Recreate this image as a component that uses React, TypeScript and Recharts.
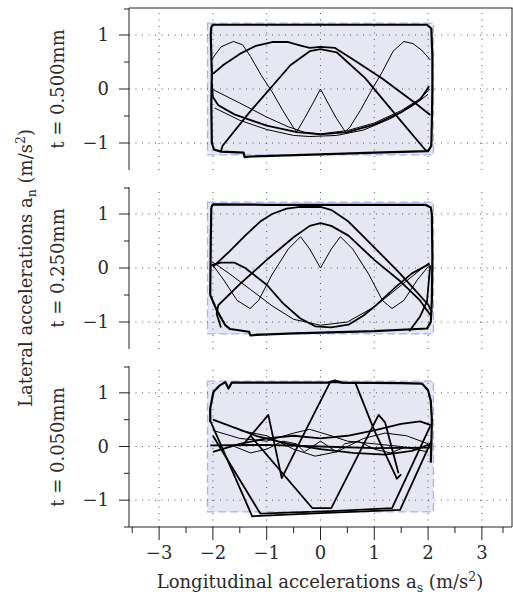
import React from 'react';
import { ScatterChart, Scatter, XAxis, YAxis, ReferenceArea, ReferenceLine } from 'recharts';

type Pt = [number, number];

// axes
const xTicks = [-3.5, -3, -2.5, -2, -1.5, -1, -0.5, 0, 0.5, 1, 1.5, 2, 2.5, 3, 3.5];
const yTicks = [-1.5, -1, -0.5, 0, 0.5, 1, 1.5];
const xGrid = [-3, -2, -1, 0, 1, 2, 3];
const yGrid = [-1, 0, 1];
const xDomain = [-3.56, 3.56];
const yDomain = [-1.5, 1.5];
const panelLabels = ['t = 0.500mm', 't = 0.250mm', 't = 0.050mm'];

// friction envelope (shaded box)
const envX = [-2.1, 2.1];
const envY = [-1.22, 1.22];

// ---- t = 0.500mm ----
const p1Outer: Pt[] = [
  [-2.03, 1.15], [-2.0, 1.19], [-1.0, 1.19], [0, 1.19], [1.0, 1.19], [1.98, 1.19], [2.06, 1.12],
  [2.08, 0.6], [2.08, 0], [2.07, -0.6], [2.06, -1.05], [2.0, -1.15], [1.0, -1.18], [0, -1.21],
  [-1.3, -1.25], [-1.41, -1.26], [-1.43, -1.18], [-1.85, -1.16], [-1.98, -1.12], [-2.02, -1.0],
  [-2.03, -0.3], [-2.02, 0.3], [-2.04, 1.0], [-2.03, 1.15],
];
const p1ArchA: Pt[] = [
  [-2.0, 0.28], [-1.8, 0.45], [-1.5, 0.65], [-1.2, 0.8], [-0.9, 0.87], [-0.6, 0.87], [-0.35, 0.8],
  [-0.2, 0.76], [0, 0.78], [0.27, 0.76], [0.6, 0.55], [1.14, 0.2], [1.76, -0.26], [2.04, -0.48],
];
const p1Triangle: Pt[] = [
  [-1.85, -1.15], [-1.82, -1.05], [-1.31, -0.42], [-0.56, 0.44], [-0.2, 0.7], [0, 0.74],
  [0.3, 0.68], [0.83, 0.2], [1.45, -0.54], [1.95, -1.13], [2.02, -1.15],
];
const p1Hump: Pt[] = [
  [-2.02, 0.55], [-1.85, 0.78], [-1.62, 0.88], [-1.45, 0.82], [-1.3, 0.6], [-1.1, 0.25], [-0.9, -0.05],
  [-0.7, -0.4], [-0.5, -0.72], [-0.44, -0.79], [-0.3, -0.55], [-0.15, -0.28], [0, 0], [0.15, -0.28],
  [0.3, -0.55], [0.46, -0.79], [0.55, -0.7], [0.75, -0.38], [0.95, -0.02], [1.15, 0.32], [1.35, 0.7],
  [1.55, 0.88], [1.72, 0.84], [1.88, 0.72], [2.04, 0.54],
];
const p1BowlThin: Pt[] = [
  [-2.02, 0.0], [-1.5, -0.26], [-1.0, -0.52], [-0.6, -0.7], [-0.3, -0.8], [0, -0.83], [0.5, -0.77],
  [1.0, -0.63], [1.5, -0.4], [1.85, -0.18], [2.03, 0.0],
];
const p1BowlA: Pt[] = [
  [-2.02, 0.1], [-2.0, -0.15], [-1.9, -0.3], [-1.6, -0.47], [-1.0, -0.68], [-0.44, -0.8], [0, -0.84],
  [0.5, -0.8], [1.0, -0.66], [1.5, -0.43], [1.85, -0.2], [2.02, 0.05],
];
const p1BowlB: Pt[] = [
  [-1.97, -0.35], [-1.5, -0.58], [-1.0, -0.75], [-0.5, -0.86], [-0.2, -0.88], [0.3, -0.86],
  [0.8, -0.76], [1.3, -0.55], [1.7, -0.32], [2.0, -0.1],
];

// ---- t = 0.250mm ----
const p2Outer: Pt[] = [
  [-2.03, 1.12], [-2.0, 1.18], [-1.0, 1.17], [0, 1.17], [1.0, 1.17], [1.95, 1.17], [2.05, 1.12],
  [2.07, 1.0], [2.08, 0.2], [2.07, -0.6], [2.05, -1.0], [1.98, -1.12], [1.0, -1.17], [-0.5, -1.21],
  [-1.2, -1.24], [-1.3, -1.25], [-1.33, -1.18], [-1.68, -1.13], [-1.77, -1.06], [-1.93, -0.78],
  [-2.05, -0.5], [-2.04, 0.5], [-2.03, 1.12],
];
const p2ArchA: Pt[] = [
  [-2.0, 0.02], [-1.7, 0.3], [-1.4, 0.6], [-1.12, 0.86], [-0.9, 1.0], [-0.63, 1.1], [-0.38, 1.13],
  [0, 1.13], [0.21, 1.07], [0.52, 0.86], [0.8, 0.58], [1.1, 0.28], [1.45, -0.07], [1.75, -0.4],
  [2.01, -0.69], [2.07, -0.82],
];
const p2ArchB: Pt[] = [
  [-1.85, -1.1], [-1.93, -0.85], [-1.9, -0.69], [-1.5, -0.3], [-1.0, 0.15], [-0.5, 0.57], [-0.2, 0.78],
  [0, 0.83], [0.2, 0.78], [0.52, 0.6], [1.0, 0.15], [1.5, -0.26], [1.85, -0.6], [2.04, -0.87],
];
const p2Bell: Pt[] = [
  [-2.03, 0.05], [-1.85, 0.1], [-1.6, 0.1], [-1.4, 0.0], [-1.0, -0.31], [-0.7, -0.65], [-0.38, -0.93],
  [-0.1, -1.08], [0.2, -1.1], [0.52, -1.05], [0.8, -0.88], [1.02, -0.7], [1.4, -0.35], [1.7, -0.1],
  [2.03, 0.08],
];
const p2BellThin: Pt[] = [
  [-2.02, 0.12], [-1.7, -0.1], [-1.3, -0.4], [-0.9, -0.7], [-0.5, -0.95], [0, -1.06], [0.5, -1.0],
  [1.0, -0.72], [1.5, -0.32], [2.02, 0.1],
];
const p2M: Pt[] = [
  [-2.02, 0.08], [-1.8, -0.22], [-1.55, -0.6], [-1.31, -0.75], [-1.15, -0.6], [-0.9, -0.12],
  [-0.6, 0.35], [-0.37, 0.58], [-0.2, 0.35], [0, 0.0], [0.2, 0.35], [0.37, 0.58], [0.6, 0.35],
  [0.9, -0.12], [1.15, -0.6], [1.33, -0.75], [1.55, -0.6], [1.8, -0.22], [2.02, 0.05],
];
const p2Riser: Pt[] = [
  [1.65, -1.17], [1.85, -0.9], [1.98, -0.62], [2.04, 0.05],
];

// ---- t = 0.050mm ----
const p3Outer: Pt[] = [
  [-2.05, 0.45], [-2.05, 0.71], [-1.99, 1.02], [-1.87, 1.14], [-1.77, 1.2], [-1.71, 1.08], [-1.65, 1.19],
  [-1.0, 1.19], [0.15, 1.19], [0.27, 1.23], [0.4, 1.19], [1.5, 1.18], [1.89, 1.17], [2.0, 1.05],
  [2.05, 0.85], [2.07, 0.5], [2.06, 0.0], [2.05, -0.3],
];
const p3StripA: Pt[] = [
  [-2.04, 0.46], [-1.27, -1.3], [0.0, -1.24], [1.48, -1.18], [2.06, 0.1],
];
const p3StripB: Pt[] = [
  [-2.0, 0.2], [-1.12, -1.25], [0.3, -1.2], [1.33, -1.15], [2.04, 0.38],
];
const p3ZigA: Pt[] = [
  [-1.45, 0.02], [-0.97, 0.59], [-0.72, -0.59], [-0.1, 0.65], [0.18, 1.2], [0.65, 1.18], [1.0, 0.3],
  [1.42, -0.6], [1.5, -0.52],
];
const p3ZigB: Pt[] = [
  [-1.3, 0.2], [-0.15, -1.15], [0.2, -1.15], [1.08, 0.59], [1.2, 0.45], [1.45, -0.5],
];
const p3WaveA: Pt[] = [
  [-2.05, 0.02], [-1.0, 0.03], [0, 0.0], [1.0, -0.03], [2.05, -0.02],
];
const p3WaveB: Pt[] = [
  [-2.0, 0.5], [-1.6, 0.35], [-1.2, 0.2], [-0.6, 0.05], [0, -0.05], [0.6, -0.12], [1.2, -0.15],
  [1.7, -0.08], [2.05, 0.05],
];
const p3WaveC: Pt[] = [
  [-2.0, -0.1], [-1.5, 0.05], [-1.0, 0.15], [-0.5, 0.2], [0, 0.15], [0.5, 0.2], [1.0, 0.3],
  [1.5, 0.42], [1.85, 0.47], [2.05, 0.4],
];
const p3WaveD: Pt[] = [
  [-1.6, 0.0], [-1.3, -0.12], [-1.0, -0.05], [-0.7, 0.1], [-0.45, 0.05], [-0.3, -0.1], [-0.15, 0.0],
  [0, 0.1], [0.15, 0.0], [0.3, -0.1], [0.45, 0.05], [0.7, 0.1], [1.0, -0.05], [1.3, -0.12], [1.6, 0.0],
];
const p3WaveE: Pt[] = [
  [-2.0, 0.3], [-1.5, 0.15], [-1.0, 0.1], [-0.5, 0.25], [-0.2, 0.32], [0.2, 0.2], [0.5, 0.1],
  [1.0, 0.05], [1.5, 0.0], [2.0, -0.1],
];
const p3WaveF: Pt[] = [
  [-1.5, 0.3], [-1.0, 0.2], [-0.5, -0.05], [-0.1, -0.18], [0.3, -0.1], [0.8, 0.15], [1.2, 0.25],
  [1.6, 0.2], [2.0, 0.05],
];

const THICK = 2.2;
const MID = 1.8;
const THIN = 1;

const panels = [
  [
    { pts: p1Outer, w: THICK }, { pts: p1ArchA, w: MID }, { pts: p1Triangle, w: MID },
    { pts: p1Hump, w: THIN }, { pts: p1BowlThin, w: THIN }, { pts: p1BowlA, w: MID }, { pts: p1BowlB, w: THIN },
  ],
  [
    { pts: p2Outer, w: THICK }, { pts: p2ArchA, w: MID }, { pts: p2ArchB, w: MID }, { pts: p2Bell, w: MID },
    { pts: p2BellThin, w: THIN }, { pts: p2M, w: THIN }, { pts: p2Riser, w: MID },
  ],
  [
    { pts: p3Outer, w: THICK }, { pts: p3StripA, w: MID }, { pts: p3StripB, w: MID }, { pts: p3ZigA, w: MID },
    { pts: p3ZigB, w: MID }, { pts: p3WaveA, w: MID }, { pts: p3WaveB, w: MID }, { pts: p3WaveC, w: MID },
    { pts: p3WaveD, w: THIN }, { pts: p3WaveE, w: THIN }, { pts: p3WaveF, w: THIN },
  ],
];

const FONT = '"DejaVu Serif", "Liberation Serif", serif';
const INK = '#222';
const TXT = '#2a2a2a';
const FS = 18;
const FS_SUB = 12.5;

const fmt = (v: number) => (v < 0 ? `\u2212${Math.abs(v)}` : `${v}`);

const YTick = (props: any) => {
  const { x, y, payload } = props;
  const major = Number.isInteger(payload.value);
  return (
    <g>
      <line x1={x - (major ? 10 : 5)} x2={x} y1={y} y2={y} stroke={INK} strokeWidth={1} />
      {major && (
        <text x={x - 20} y={y + 6} textAnchor="end" fontFamily={FONT} fontSize={FS} fill={TXT}>
          {fmt(payload.value)}
        </text>
      )}
    </g>
  );
};

const XTick = (props: any) => {
  const { x, y, payload } = props;
  const major = Number.isInteger(payload.value);
  return (
    <g>
      <line x1={x} x2={x} y1={y} y2={y + (major ? 13 : 6)} stroke={INK} strokeWidth={1} />
      {major && (
        <text x={x} y={y + 32} textAnchor="middle" fontFamily={FONT} fontSize={FS} fill={TXT}>
          {fmt(payload.value)}
        </text>
      )}
    </g>
  );
};

const Panel = ({ series, top, height, bottom, showX }: any) => (
  <div style={{ position: 'absolute', left: 0, top, width: 513, height }}>
    <ScatterChart width={513} height={height} margin={{ top: 8, right: 1, bottom, left: 0 }}>
      <XAxis
        type="number"
        dataKey="x"
        domain={xDomain}
        ticks={xTicks}
        hide={!showX}
        height={showX ? 30 : 0}
        tick={<XTick />}
        tickSize={0}
        tickMargin={0}
        tickLine={false}
        axisLine={{ stroke: INK }}
        allowDataOverflow
      />
      <YAxis
        type="number"
        dataKey="y"
        domain={yDomain}
        ticks={yTicks}
        width={129}
        tick={<YTick />}
        tickSize={0}
        tickMargin={0}
        tickLine={false}
        axisLine={{ stroke: INK }}
        allowDataOverflow
      />
      <ReferenceArea
        x1={envX[0]}
        x2={envX[1]}
        y1={envY[0]}
        y2={envY[1]}
        fill="#e7e7f3"
        fillOpacity={1}
        stroke="#a8b3ee"
        strokeWidth={1.3}
        strokeDasharray="8 4"
      />
      {xGrid.map((v) => (
        <ReferenceLine key={`gx${v}`} x={v} stroke="#555" strokeDasharray="1 5.5" />
      ))}
      {yGrid.map((v) => (
        <ReferenceLine key={`gy${v}`} y={v} stroke="#555" strokeDasharray="1 5.5" />
      ))}
      {series.map((s: any, i: number) => (
        <Scatter
          key={i}
          data={s.pts.map(([x, y]: Pt) => ({ x, y }))}
          line={{ stroke: '#000', strokeWidth: s.w, strokeLinejoin: 'round' }}
          lineJointType="linear"
          shape={() => <g />}
          isAnimationActive={false}
        />
      ))}
    </ScatterChart>
  </div>
);

export default function App() {
  return (
    <div style={{ position: 'absolute', left: 0, top: 0, width: 513, height: 595, background: '#fff' }}>
      <Panel series={panels[0]} top={0} height={178} bottom={8} showX={false} />
      <Panel series={panels[1]} top={179} height={178} bottom={8} showX={false} />
      <Panel series={panels[2]} top={358} height={237} bottom={38} showX={true} />
      <svg width={513} height={595} style={{ position: 'absolute', left: 0, top: 0, pointerEvents: 'none' }}>
        <line x1={129} x2={512.5} y1={8} y2={8} stroke={INK} strokeWidth={1} />
        <line x1={512} x2={512} y1={8} y2={527} stroke={INK} strokeWidth={1} />
        {panelLabels.map((t, i) => {
          const cy = 89 + i * 179;
          return (
            <text
              key={t}
              transform={`translate(64, ${cy}) rotate(-90)`}
              textAnchor="middle"
              fontFamily={FONT}
              fontSize={FS}
              fill={TXT}
            >
              {t}
            </text>
          );
        })}
        <text transform="translate(32, 268) rotate(-90)" textAnchor="middle" fontFamily={FONT} fontSize={FS} fill={TXT}>
          Lateral accelerations a<tspan fontSize={FS_SUB} dy={4}>n</tspan>
          <tspan dy={-4}> (m/s</tspan>
          <tspan fontSize={FS_SUB} dy={-7}>2</tspan>
          <tspan dy={7}>)</tspan>
        </text>
        <text x={320} y={588} textAnchor="middle" fontFamily={FONT} fontSize={FS} fill={TXT}>
          Longitudinal accelerations a<tspan fontSize={FS_SUB} dy={4}>s</tspan>
          <tspan dy={-4}> (m/s</tspan>
          <tspan fontSize={FS_SUB} dy={-7}>2</tspan>
          <tspan dy={7}>)</tspan>
        </text>
      </svg>
    </div>
  );
}
